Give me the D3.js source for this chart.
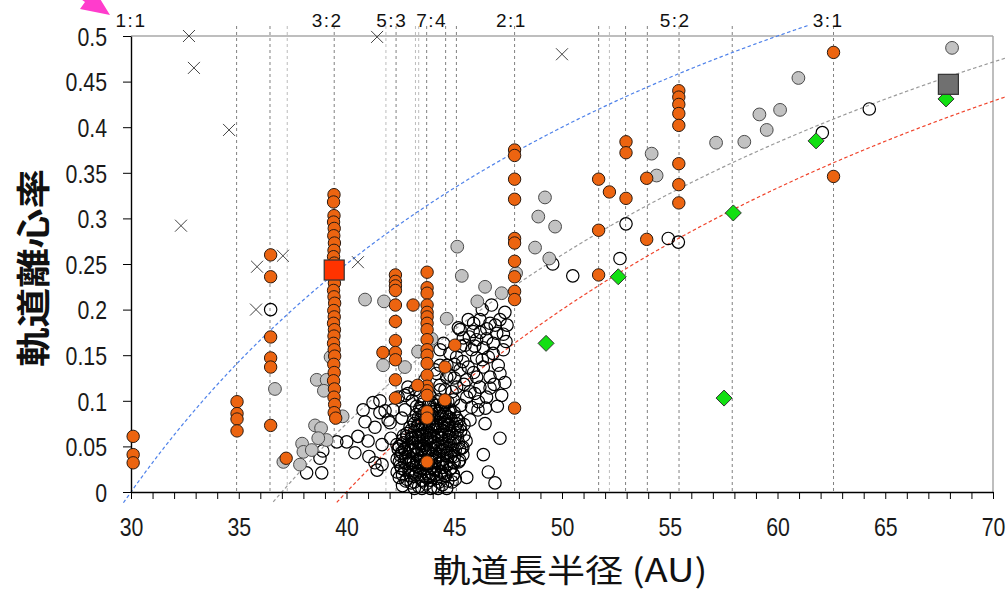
<!DOCTYPE html>
<html>
<head>
<meta charset="utf-8">
<script src="https://cdn.jsdelivr.net/npm/d3@7"></script>
<style>
  body { margin: 0; background: #fff; }
  svg { display: block; }
</style>
</head>
<body>
<svg id="chart"></svg>
<script>
// axis ticks / labels
const xTicks = d3.range(30, 71);
const xLabels = [30, 35, 40, 45, 50, 55, 60, 65, 70];
const yTicks = [0, 0.05, 0.1, 0.15, 0.2, 0.25, 0.3, 0.35, 0.4, 0.45, 0.5];

// mean-motion resonances (AU)
const resonanceNames = ["1:1", "3:2", "5:3", "7:4", "2:1", "5:2", "3:1"];
const resonanceAU = [30.0, 39.1, 42.1, 43.95, 47.65, 55.25, 62.35];
const strongLines = [34.9, 36.45, 39.43, 42.3, 43.72, 44.6, 45.1, 47.8, 51.7, 52.95, 53.96, 55.43, 57.9, 62.6];
const faintLines = [37.25, 41.83, 43.2, 43.35, 52.2];

// perihelion distances q (AU) for e = 1 - q/a
const perihelionQ = [30, 37, 40];

// [a, e]
const resonantObjects = [
  [30.1, .061], [30.1, .041], [30.1, .032],
  [34.92, .099], [34.92, .086], [34.92, .080], [34.92, .067],
  [36.48, .260], [36.48, .236], [36.48, .170], [36.48, .147], [36.48, .137], [36.48, .073],
  [37.2, .037],
  [39.42, .326], [39.40, .318], [39.42, .303], [39.40, .296], [39.43, .289], [39.41, .281],
  [39.44, .273], [39.42, .265], [39.40, .258], [39.43, .251], [39.42, .236], [39.44, .229],
  [39.40, .221], [39.42, .214], [39.45, .207], [39.41, .199], [39.43, .192], [39.40, .185],
  [39.44, .178], [39.42, .171], [39.40, .163], [39.43, .156], [39.45, .149], [39.41, .140],
  [39.43, .131], [39.40, .122], [39.44, .113], [39.42, .104], [39.45, .096], [39.43, .087], [39.5, .081],
  [42.27, .238], [42.27, .231], [42.27, .226], [42.27, .221], [42.27, .205], [42.27, .187],
  [42.27, .166], [42.27, .153], [42.27, .145], [42.27, .123], [42.27, .103], [41.69, .153],
  [43.09, .205],
  [43.74, .241], [43.74, .224], [43.74, .218], [43.74, .205], [43.74, .197], [43.74, .192],
  [43.74, .185], [43.74, .178], [43.74, .167], [43.74, .156], [43.74, .150], [43.74, .141],
  [43.74, .128], [43.74, .116], [43.74, .111], [43.74, .106], [43.74, .088], [43.74, .081], [43.74, .033],
  [44.57, .137], [45.03, .161], [44.57, .101], [43.3, .117],
  [47.8, .375], [47.8, .369], [47.8, .343], [47.8, .321], [47.8, .278], [47.8, .273],
  [47.8, .253], [47.8, .236], [47.8, .220], [47.8, .211], [47.8, .092],
  [51.7, .343], [52.2, .329], [52.97, .384], [52.97, .372], [52.97, .322], [53.93, .344],
  [51.7, .287], [53.93, .277], [51.7, .238],
  [55.42, .440], [55.42, .433], [55.42, .425], [55.42, .415], [55.42, .402], [55.42, .360],
  [55.42, .337], [55.42, .317],
  [62.6, .482], [62.6, .346]
];

const scatteredObjects = [
  [49.21, .323], [48.9, .302], [49.68, .291], [48.75, .268], [49.41, .256], [47.87, .240],
  [54.16, .371], [54.39, .347], [47.2, .218], [60.97, .454], [59.16, .414], [60.12, .419],
  [59.5, .397], [57.15, .383], [58.46, .384], [68.1, .487],
  [45.14, .269], [45.35, .237], [46.43, .225], [46.07, .209], [44.65, .190],
  [40.86, .211], [41.74, .209], [43.95, .168], [43.32, .154], [42.71, .137], [41.7, .139],
  [39.82, .083], [39.26, .148], [36.68, .113], [38.62, .123], [39.08, .123], [38.95, .111],
  [38.54, .073], [38.82, .070], [39.08, .057], [38.69, .059], [37.94, .053], [38.0, .044],
  [38.39, .046], [37.07, .033], [37.84, .030]
];

const classicalObjects = [
  // outliers
  [36.48, .200], [39.55, .055], [38.77, .037], [38.15, .021], [38.85, .021], [38.9, .045],
  [40.01, .055], [40.53, .061], [41.0, .056], [40.39, .043], [40.77, .090], [41.23, .098],
  [41.55, .087], [41.93, .079], [41.32, .071], [40.86, .077], [41.65, .052], [42.06, .059],
  [42.02, .076], [41.79, .089], [42.16, .090], [41.55, .100], [41.32, .032], [41.65, .030],
  [41.42, .024], [41.04, .039], [42.71, .090], [42.57, .081], [42.71, .106], [42.85, .115],
  [42.34, .052], [42.57, .043], [43.09, .054],
  [43.05, .100], [42.85, .108], [42.4, .104], [44.34, .139], [44.65, .126], [44.18, .130],
  [44.34, .112], [44.57, .098], [43.41, .105], [43.26, .094], [43.18, .112], [43.64, .123],
  [44.1, .134], [44.66, .139], [44.34, .117],
  // upper arm
  [46.73, .205], [47.35, .197], [47.12, .189], [46.19, .189], [46.66, .185], [45.65, .189],
  [45.27, .178], [45.88, .176], [46.51, .179], [47.28, .173], [46.04, .167], [45.42, .169],
  [46.81, .163], [46.35, .158], [45.81, .156], [45.11, .148], [46.04, .147], [46.58, .148],
  [47.04, .139], [46.35, .137], [45.65, .137], [45.27, .134], [46.04, .126], [46.66, .126],
  [47.12, .130], [45.58, .123], [46.19, .115], [46.66, .114], [47.2, .106], [46.12, .099],
  [45.58, .104], [45.11, .115], [44.96, .101], [45.19, .180], [46.97, .174], [45.5, .161],
  [47.28, .156], [44.8, .152], [44.5, .163], [44.34, .156], [44.8, .128], [44.57, .112],
  [45.73, .110], [43.87, .106],
  [45.0, .125], [45.4, .143], [45.9, .131], [46.3, .145], [46.8, .152], [47.4, .165],
  [45.7, .170], [46.2, .175], [46.9, .183], [47.45, .183], [45.3, .160], [45.95, .160],
  [46.5, .168], [45.9, .185], [46.3, .200], [45.0, .140], [45.45, .118], [45.95, .108],
  [46.5, .104], [46.85, .118], [47.35, .120], [45.3, .095], [45.8, .093], [44.9, .110],
  [46.45, .092], [47.0, .094],
  // right side and far objects
  [46.43, .075], [47.12, .059], [45.35, .048], [46.35, .041], [44.96, .019], [45.58, .016],
  [46.58, .022], [46.89, .010], [44.65, .070], [45.27, .072], [45.73, .079], [46.1, .090],
  [52.97, .294], [52.69, .256], [50.5, .237], [49.57, .250], [54.93, .278], [55.4, .274],
  [64.26, .420], [62.08, .394],
  // main belt core
  [42.6, .007], [43.0, .010], [43.35, .006], [43.7, .009], [44.05, .005], [44.45, .008], [44.9, .011],
  [42.45, .016], [42.8, .014], [43.15, .017], [43.5, .013], [43.85, .016], [44.2, .015], [44.6, .018], [45.05, .014],
  [42.35, .022], [42.7, .024], [43.05, .021], [43.4, .023], [43.75, .020], [44.1, .024], [44.4, .022], [44.8, .025],
  [42.5, .029], [42.9, .031], [43.25, .028], [43.6, .030], [43.95, .027], [44.25, .031], [44.65, .029], [45.0, .032],
  [42.35, .036], [42.75, .038], [43.1, .035], [43.45, .037], [43.8, .034], [44.15, .038], [44.5, .036], [44.85, .039], [45.25, .035],
  [42.55, .043], [42.95, .045], [43.3, .042], [43.65, .044], [44.0, .041], [44.35, .045], [44.7, .043], [45.05, .046],
  [42.45, .050], [42.85, .052], [43.2, .049], [43.55, .051], [43.9, .048], [44.25, .052], [44.6, .050], [44.95, .053], [45.4, .049],
  [42.6, .057], [43.0, .059], [43.35, .056], [43.7, .058], [44.05, .055], [44.4, .059], [44.75, .057], [45.15, .060], [45.55, .056],
  [42.8, .064], [43.15, .066], [43.5, .063], [43.85, .065], [44.2, .062], [44.55, .066], [44.9, .064], [45.3, .067],
  [42.95, .071], [43.3, .073], [43.65, .070], [44.0, .072], [44.35, .069], [44.7, .073], [45.05, .071], [45.45, .074],
  [43.1, .078], [43.45, .080], [43.8, .077], [44.15, .079], [44.5, .076], [44.85, .080], [45.2, .078],
  [43.25, .085], [43.6, .087], [43.95, .084], [44.3, .086], [44.65, .083], [45.0, .087],
  [43.4, .092], [43.8, .094], [44.1, .091], [44.45, .093], [44.8, .090],
  [43.6, .100], [43.95, .098], [44.3, .101], [44.7, .099],
  [43.2, .019], [43.6, .018], [44.0, .020], [44.35, .019],
  [43.1, .032], [43.45, .033], [43.8, .031], [44.1, .034], [44.45, .032],
  [43.1, .046], [43.5, .047], [43.8, .045], [44.15, .048], [44.5, .046],
  [43.2, .060], [43.55, .061], [43.9, .059], [44.25, .062],
  [43.5, .074], [43.85, .075], [44.2, .073], [44.55, .076],
  [43.75, .088], [44.15, .089], [44.55, .087],
  [42.75, .012], [43.15, .011], [43.55, .012], [43.9, .013], [44.3, .011], [44.7, .012],
  [42.55, .026], [42.95, .025], [43.35, .027], [43.7, .026], [44.05, .025], [44.45, .027], [44.85, .026],
  [42.5, .040], [42.9, .039], [43.25, .041], [43.6, .040], [43.95, .039], [44.3, .041], [44.65, .040], [45.0, .039], [45.4, .041],
  [42.65, .054], [43.05, .054], [43.4, .053], [43.75, .055], [44.1, .054], [44.45, .053], [44.8, .055], [45.2, .054],
  [43.0, .068], [43.4, .068], [43.75, .067], [44.1, .069], [44.45, .068], [44.8, .067], [45.15, .068],
  [43.35, .082], [43.7, .082], [44.05, .081], [44.4, .083], [44.75, .082], [45.1, .081],
  [43.5, .096], [43.85, .096], [44.2, .095], [44.55, .096],
  [43.15, .004], [43.5, .004], [43.9, .004], [44.25, .004], [44.65, .004],
  [42.4, .047], [42.7, .047], [42.45, .033], [45.2, .033], [45.45, .062], [42.65, .062],
  [42.6, .019], [42.95, .018], [43.4, .019], [43.8, .018], [44.15, .019], [44.55, .018], [44.95, .019],
  [42.7, .033], [43.0, .032], [43.3, .033], [43.65, .032], [43.95, .033], [44.3, .032], [44.65, .033], [44.95, .033],
  [42.7, .047], [43.0, .046], [43.35, .047], [43.65, .046], [43.95, .047], [44.3, .046], [44.65, .047], [44.95, .046], [45.25, .047],
  [42.8, .061], [43.05, .060], [43.4, .061], [43.75, .060], [44.05, .061], [44.4, .060], [44.75, .061], [45.05, .060],
  [43.15, .075], [43.35, .074], [43.7, .075], [44.05, .074], [44.4, .075], [44.75, .074], [45.1, .075],
  [43.45, .089], [43.95, .088], [44.35, .089], [44.75, .088]
];

const centaurObjects = [
  [32.69, .500], [32.92, .465], [34.55, .397], [32.32, .292], [35.85, .247],
  [37.05, .259], [35.8, .200], [40.53, .252], [41.42, .499], [50.0, .480]
];

const detachedObjects = [
  [67.82, .431], [61.79, .385], [57.95, .306], [52.61, .236], [49.26, .163], [57.52, .103]
];

const pluto = [39.43, .2434];
const eris = [67.93, .447];

class ResonancePlot {
  constructor(_config) {
    this.config = {
      parentElement: _config.parentElement,
      containerWidth: 1007,
      containerHeight: 594,
      margin: { top: 36, right: 14, bottom: 102, left: 131 },
      curveColors: ["#4f82ea", "#9a9a9a", "#f0442c"],
      narrow: 0.82,
    };
    this.initVis();
  }

  initVis() {
    let vis = this;
    const m = vis.config.margin;

    vis.width = vis.config.containerWidth - m.left - m.right;
    vis.height = vis.config.containerHeight - m.top - m.bottom;

    vis.svg = d3
      .select(vis.config.parentElement)
      .attr("width", vis.config.containerWidth)
      .attr("height", vis.config.containerHeight);

    vis.chart = vis.svg.append("g").attr("transform", `translate(${m.left},${m.top})`);

    vis.xScale = d3.scaleLinear().domain([30, 70]).range([0, vis.width]);
    vis.yScale = d3.scaleLinear().domain([0, 0.5]).range([vis.height, 0]);

    vis.renderVis();
  }

  renderVis() {
    let vis = this;
    const x = vis.xScale, y = vis.yScale, k = vis.config.narrow;
    const numFont = '"Liberation Sans", Arial, sans-serif';

    // resonance lines
    const addLines = (values, color) =>
      vis.chart.append("g").selectAll("line").data(values).join("line")
        .attr("x1", (d) => x(d)).attr("x2", (d) => x(d))
        .attr("y1", -10).attr("y2", vis.height)
        .attr("stroke", color).attr("stroke-width", 1)
        .attr("stroke-dasharray", "3,3");
    addLines(faintLines, "#bcbcbc");
    addLines(strongLines, "#808080");

    // top and right frame
    vis.chart.append("line").attr("x1", 0).attr("x2", vis.width).attr("y1", 0).attr("y2", 0)
      .attr("stroke", "#a8a8a8").attr("stroke-width", 1.5);
    vis.chart.append("line").attr("x1", vis.width).attr("x2", vis.width).attr("y1", 0).attr("y2", vis.height)
      .attr("stroke", "#a8a8a8").attr("stroke-width", 1.5);

    // resonance labels
    vis.chart.append("g").selectAll("text").data(resonanceNames).join("text")
      .attr("x", (d, i) => x(resonanceAU[i])).attr("y", -9)
      .attr("text-anchor", "middle")
      .style("font-family", numFont).style("font-size", "19px").style("letter-spacing", "1.5px")
      .attr("fill", "#111")
      .text((d) => d);

    // constant perihelion curves
    const aSamples = d3.range(29.5, 71, 0.05);
    const xMax = vis.config.containerWidth - vis.config.margin.left;
    perihelionQ.forEach((q, i) => {
      const line = d3.line()
        .defined((a) => 1 - q / a >= -0.012 && y(1 - q / a) >= -11 && x(a) <= xMax)
        .x((a) => x(a)).y((a) => y(1 - q / a));
      vis.chart.append("path").attr("d", line(aSamples))
        .attr("fill", "none").attr("stroke", vis.config.curveColors[i])
        .attr("stroke-width", 1.2).attr("stroke-dasharray", "3.5,2.5");
    });

    // axes
    const xAxis = d3.axisBottom(x).tickValues(xTicks).tickSize(7).tickSizeOuter(0)
      .tickFormat((d) => (xLabels.includes(d) ? d : ""));
    const yAxis = d3.axisLeft(y).tickValues(yTicks).tickSize(8).tickSizeOuter(0)
      .tickFormat((d) => String(+d.toFixed(2)));

    const xAxisG = vis.chart.append("g").attr("transform", `translate(0,${vis.height})`).call(xAxis);
    const yAxisG = vis.chart.append("g").call(yAxis);
    [xAxisG, yAxisG].forEach((g) => {
      g.select(".domain").attr("stroke", "#000").attr("stroke-width", 1.4);
      g.selectAll(".tick line").attr("stroke", "#000");
      g.selectAll("text").style("font-family", numFont).style("font-size", "26px").attr("fill", "#1a1a1a");
    });
    xAxisG.selectAll("text").attr("y", 44).attr("dy", null).attr("transform", `scale(${k},1)`);
    yAxisG.selectAll("text").attr("x", -24 / k).attr("dy", "0.36em").attr("transform", `scale(${k},1)`);

    // marks
    const marks = vis.chart.append("g");
    marks.selectAll(".classical").data(classicalObjects).join("circle")
      .attr("class", "classical")
      .attr("cx", (d) => x(d[0])).attr("cy", (d) => y(d[1])).attr("r", 6.2)
      .attr("fill", "none").attr("stroke", "#000").attr("stroke-width", 1.2);

    marks.selectAll(".scattered").data(scatteredObjects).join("circle")
      .attr("class", "scattered")
      .attr("cx", (d) => x(d[0])).attr("cy", (d) => y(d[1])).attr("r", 6.4)
      .attr("fill", "#c2c2c2").attr("stroke", "#4a4a4a").attr("stroke-width", 1);

    marks.selectAll(".resonant").data(resonantObjects).join("circle")
      .attr("class", "resonant")
      .attr("cx", (d) => x(d[0])).attr("cy", (d) => y(d[1])).attr("r", 6.2)
      .attr("fill", "#ec6410").attr("stroke", "#2a1a10").attr("stroke-width", 1);

    marks.selectAll(".centaur").data(centaurObjects).join("path")
      .attr("class", "centaur")
      .attr("transform", (d) => `translate(${x(d[0])},${y(d[1])})`)
      .attr("d", "M-6,-6L6,6M-6,6L6,-6")
      .attr("stroke", "#444").attr("stroke-width", 1).attr("fill", "none");

    marks.selectAll(".detached").data(detachedObjects).join("path")
      .attr("class", "detached")
      .attr("transform", (d) => `translate(${x(d[0])},${y(d[1])})`)
      .attr("d", "M0,-8L8,0L0,8L-8,0Z")
      .attr("fill", "#12e012").attr("stroke", "#333").attr("stroke-width", 1);

    const square = (d, fill) =>
      marks.append("rect")
        .attr("x", x(d[0]) - 10).attr("y", y(d[1]) - 10)
        .attr("width", 20).attr("height", 20)
        .attr("fill", fill).attr("stroke", "#333").attr("stroke-width", 1.2);
    square(pluto, "#ff3300");
    square(eris, "#707070");

    // axis titles
    vis.svg.append("text")
      .attr("x", 570).attr("y", 582)
      .attr("text-anchor", "middle")
      .attr("textLength", 275).attr("lengthAdjust", "spacingAndGlyphs")
      .style("font-family", '"Noto Sans CJK JP", sans-serif').style("font-size", "32px")
      .attr("fill", "#111")
      .text("軌道長半径 (AU)");

    vis.svg.append("text")
      .attr("transform", "translate(34,268) rotate(-90)")
      .attr("text-anchor", "middle").attr("dy", "0.36em")
      .attr("textLength", 198).attr("lengthAdjust", "spacingAndGlyphs")
      .style("font-family", '"Noto Sans CJK JP", sans-serif').style("font-size", "34px")
      .style("font-weight", "bold").attr("fill", "#111")
      .text("軌道離心率");

    // pink pointer in the corner
    vis.svg.append("polygon")
      .attr("points", "110,15 80,9 85,2 44,-27 48,-33 89,-4 94,-11")
      .attr("fill", "#ff3ccc");
  }
}

new ResonancePlot({ parentElement: "#chart" });
</script>
</body>
</html>
